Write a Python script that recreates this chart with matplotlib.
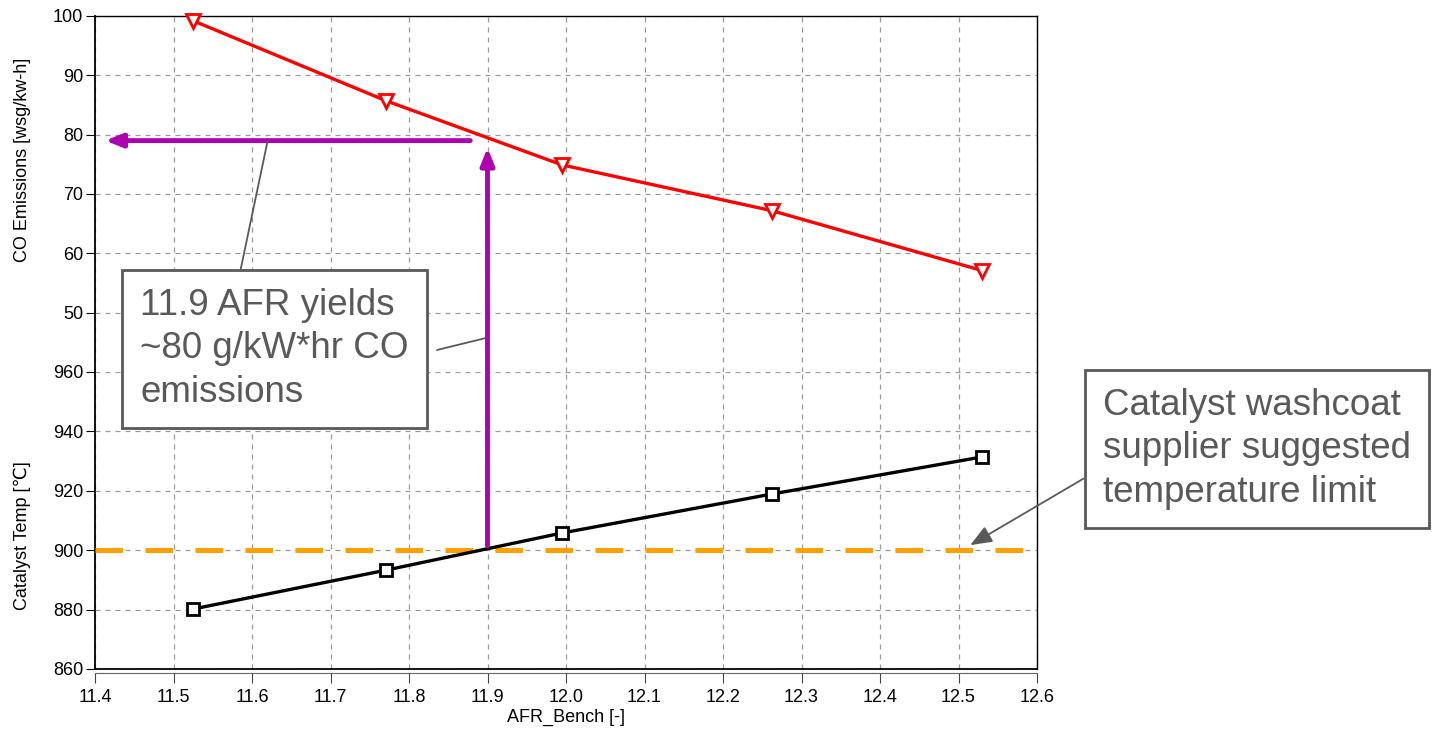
import matplotlib.pyplot as plt
from matplotlib.patches import ConnectionPatch

plt.rcParams['font.family'] = ['Liberation Sans', 'DejaVu Sans']

# AFR sweep results
afr = [11.525, 11.771, 11.995, 12.262, 12.530]
co_emissions = [99.2, 85.7, 74.9, 67.2, 57.1]
catalyst_temp = [880.2, 893.3, 905.8, 918.9, 931.4]
temp_limit = 900
afr_pick = 11.9
co_at_pick = 79

x_ticks = [11.4, 11.5, 11.6, 11.7, 11.8, 11.9, 12.0, 12.1, 12.2, 12.3, 12.4, 12.5, 12.6]
co_ticks = [50, 60, 70, 80, 90, 100]
temp_ticks = [860, 880, 900, 920, 940, 960]

W, H = 1435, 729
fig = plt.figure(figsize=(W / 100, H / 100), dpi=100)
left, width = 95 / W, 942 / W
ax_t = fig.add_axes([left, 1 - 372 / H, width, 356 / H])
ax_b = fig.add_axes([left, 60 / H, width, 297 / H])
ax_t.set_zorder(3)

grid_kw = dict(color='#999999', linestyle=(0, (4, 4)), linewidth=0.9)
for ax in (ax_t, ax_b):
    ax.set_xlim(11.4, 12.6)
    ax.set_xticks(x_ticks)
    ax.grid(True, **grid_kw)
    ax.set_axisbelow(True)
    ax.tick_params(axis='y', direction='out', length=6.5, labelsize=13, pad=2)
    ax.spines['left'].set_linewidth(1.3)
    ax.spines['right'].set_linewidth(1.0)
    ax.spines['top'].set_linewidth(1.0)

# CO emissions (top)
ax_t.set_ylim(40, 100)
ax_t.set_yticks(co_ticks)
ax_t.spines['bottom'].set_visible(False)
ax_t.tick_params(axis='x', length=0, labelbottom=False)
ax_t.plot(afr, co_emissions, color='red', lw=2.4, marker='v', ms=10,
          mfc='white', mec='red', mew=2, clip_on=False, zorder=5)
ax_t.set_ylabel('CO Emissions [wsg/kw-h]', fontsize=13)
ax_t.yaxis.set_label_coords(-0.068, 0.596)

# catalyst temperature (bottom)
ax_b.set_ylim(860, 960)
ax_b.set_yticks(temp_ticks)
ax_b.spines['top'].set_visible(False)
ax_b.spines['bottom'].set_position(('outward', 3))
ax_b.spines['bottom'].set_color('#666666')
ax_b.axhline(860, color='black', lw=1.3, clip_on=False, zorder=6)
ax_b.tick_params(axis='x', direction='out', length=7.5, color='#444444',
                 labelsize=13, pad=4)
ax_b.set_xticklabels([f'{v:.1f}' for v in x_ticks])
ax_b.axhline(temp_limit, color='#FF9F00', lw=3.6, linestyle=(0, (5.5, 4.5)), zorder=3)
ax_b.plot(afr, catalyst_temp, color='black', lw=2.4, marker='s', ms=8.5,
          mfc='white', mec='black', mew=2, clip_on=False, zorder=5)
ax_b.set_ylabel('Catalyst Temp [\u2103]', fontsize=13)
ax_b.yaxis.set_label_coords(-0.068, 0.448)
ax_b.set_xlabel('AFR_Bench [-]', fontsize=13, labelpad=2)

# purple read-off arrows
purple = '#AE00AE'
up = ConnectionPatch(xyA=(afr_pick, 901.5), coordsA=ax_b.transData,
                     xyB=(afr_pick, 77.8), coordsB=ax_t.transData,
                     arrowstyle='-|>,head_length=10,head_width=4', mutation_scale=1,
                     color=purple, lw=3.5, shrinkA=0, shrinkB=0)
up.set_zorder(10)
fig.add_artist(up)
ax_t.annotate('', xy=(11.413, co_at_pick), xytext=(11.878, co_at_pick),
              arrowprops=dict(arrowstyle='-|>,head_length=10,head_width=4',
                              mutation_scale=1, color=purple, lw=3.5,
                              shrinkA=0, shrinkB=0), zorder=7)

# callouts
note_color = '#595959'
box_kw = dict(boxstyle='square,pad=0.5', fc='white', ec=note_color, lw=2)
ax_t.annotate('11.9 AFR yields\n~80 g/kW*hr CO\nemissions',
              xy=(11.62, co_at_pick), xytext=(140 / W, 1 - 349 / H),
              textcoords='figure fraction', ha='left', va='center',
              fontsize=26.5, linespacing=1.3, color=note_color, bbox=box_kw,
              zorder=8,
              arrowprops=dict(arrowstyle='-', color=note_color, lw=1.3,
                              relpos=(0.36, 1.0), shrinkA=0, shrinkB=0))
ax_t.annotate('', xy=(afr_pick, 45.8), xytext=(437 / W, 1 - 350 / H),
              textcoords='figure fraction',
              arrowprops=dict(arrowstyle='-', color=note_color, lw=1.3,
                              shrinkA=0, shrinkB=0), zorder=8)
ax_b.annotate('Catalyst washcoat\nsupplier suggested\ntemperature limit',
              xy=(12.515, 901.7), xytext=(1103 / W, 1 - 449 / H),
              textcoords='figure fraction', ha='left', va='center',
              fontsize=26.5, linespacing=1.3, color=note_color, bbox=box_kw,
              zorder=8,
              arrowprops=dict(arrowstyle='-|>,head_length=0.5,head_width=0.2',
                              color=note_color, lw=1.3, relpos=(0.0, 0.35),
                              shrinkA=0, shrinkB=0))

fig.savefig('out.png', dpi=100)
